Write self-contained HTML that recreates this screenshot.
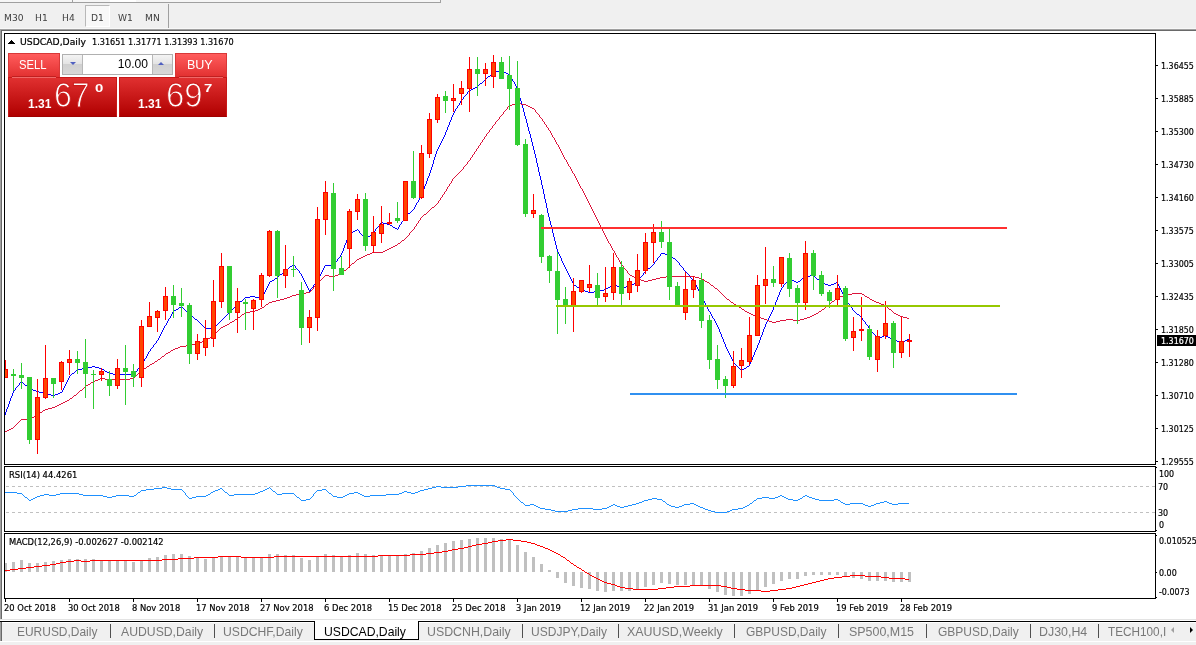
<!DOCTYPE html>
<html><head><meta charset="utf-8"><title>USDCAD,Daily</title>
<style>
html,body{margin:0;padding:0;background:#f0f0f0;}
body{width:1196px;height:645px;overflow:hidden;position:relative;font-family:"Liberation Sans",sans-serif;}
#root{position:absolute;left:0;top:0;width:1196px;height:645px;overflow:hidden;background:#f0f0f0;}
#root div{position:absolute;}
.tf{top:12px;transform:scaleX(1.07);font-family:"DejaVu Sans Condensed","Liberation Sans",sans-serif;font-size:9.5px;color:#404040;line-height:12px;transform-origin:0 0;}
.tk{left:1156px;width:2px;height:1px;background:#000;}
.dt{top:599px;width:1px;height:3px;background:#000;}
.tab{top:624px;font-size:13px;line-height:15px;color:#787878;white-space:nowrap;transform-origin:0 0;transform:scaleX(0.92);}
.tab.act{color:#000;}
.tsep{top:624px;width:1px;height:14px;background:#505050;}
.acttab{left:314px;top:621px;width:103px;height:18px;background:#fff;border:1px solid #000;border-top:none;}
.lbl{font-family:"DejaVu Sans Condensed","DejaVu Sans","Liberation Sans",sans-serif;font-size:9.5px;line-height:12px;color:#000;white-space:nowrap;transform-origin:0 0;-webkit-text-stroke:0.2px #000;}
.sm{top:97px;font-size:12px;line-height:14px;color:#fff;font-weight:bold;}
.big{top:76px;font-size:35.5px;line-height:38px;color:#fff;-webkit-text-stroke:1.1px #cb1c1c;transform-origin:0 0;transform:scaleX(0.85);}
.sup{top:81px;font-size:11.5px;line-height:14px;color:#fff;font-weight:bold;transform-origin:0 0;transform:scaleX(1.3);}
</style></head><body><div id="root">
<!-- top strip -->
<div style="left:0;top:0;width:440px;height:2px;background:#f6f6f6;border-bottom:1px solid #a0a0a0;border-right:1px solid #a0a0a0"></div>
<div style="left:72px;top:0;width:1px;height:2px;background:#a0a0a0"></div>
<div style="left:110px;top:0;width:26px;height:2px;background:#fff"></div>
<div style="left:85px;top:5px;width:23px;height:20px;background:#f8f8f8;border:1px solid #b8b8b8;border-right-color:#fff;border-bottom-color:#fff;"></div>
<div style="left:168px;top:4px;width:1px;height:24px;background:#a0a0a0"></div>
<div class="tf" style="left:4px">M30</div><div class="tf" style="left:35px">H1</div><div class="tf" style="left:62px">H4</div><div class="tf" style="left:91px">D1</div><div class="tf" style="left:118px">W1</div><div class="tf" style="left:145px">MN</div>
<!-- window frame -->
<div style="left:0;top:28px;width:1196px;height:1px;background:#f8f8f8"></div>
<div style="left:0;top:29px;width:1196px;height:1px;background:#a0a0a0"></div>
<div style="left:0;top:30px;width:1196px;height:1px;background:#696969"></div>
<div style="left:0;top:31px;width:1196px;height:590px;background:#fff"></div>
<div style="left:0;top:30px;width:1px;height:589px;background:#a0a0a0"></div>
<div style="left:1px;top:30px;width:1px;height:589px;background:#696969"></div>
<!-- main chart -->
<div style="left:4px;top:33px;width:1152px;height:432px;border:1px solid #000;box-sizing:border-box;background:#fff"></div>
<div style="left:4px;top:466px;width:1152px;height:66px;border:1px solid #000;box-sizing:border-box;background:#fff"></div>
<div style="left:4px;top:533px;width:1152px;height:66px;border:1px solid #000;box-sizing:border-box;background:#fff"></div>
<svg width="1196" height="645" viewBox="0 0 1196 645" style="position:absolute;left:0;top:0" shape-rendering="crispEdges">
<clipPath id="cp"><rect x="5" y="34" width="1150" height="430"/></clipPath>
<g clip-path="url(#cp)">



<path fill="#0000ff" d="M-3 435h1v2h-1zM-2 432h1v3h-1zM-1 429h1v3h-1zM0 426h1v3h-1zM1 424h1v2h-1zM2 421h1v3h-1zM3 418h1v3h-1zM4 415h1v3h-1zM5 412h1v3h-1zM6 409h1v3h-1zM7 407h1v2h-1zM8 404h1v3h-1zM9 401h1v3h-1zM10 398h1v3h-1zM11 396h1v2h-1zM12 393h1v3h-1zM13 391h1v2h-1zM14 390h1v1h-1zM15 388h1v2h-1zM16 387h1v1h-1zM17 386h1v1h-1zM18 385h1v1h-1zM19 383h1v2h-1zM20 382h1v1h-1zM21 381h1v1h-1zM22 382h1v1h-1zM23 383h1v1h-1zM24 384h1v1h-1zM25 385h2v1h-2zM27 386h1v1h-1zM28 387h1v1h-1zM29 388h2v1h-2zM31 389h2v1h-2zM33 390h3v1h-3zM36 391h3v1h-3zM39 392h4v1h-4zM43 393h4v1h-4zM47 394h4v1h-4zM51 395h4v1h-4zM55 394h3v1h-3zM58 393h2v1h-2zM60 392h2v1h-2zM62 390h1v2h-1zM63 388h1v2h-1zM64 386h1v2h-1zM65 384h1v2h-1zM66 382h1v2h-1zM67 380h1v2h-1zM68 378h1v2h-1zM69 376h1v2h-1zM70 375h1v1h-1zM71 374h1v1h-1zM72 373h2v1h-2zM74 372h1v1h-1zM75 371h1v1h-1zM76 370h1v1h-1zM77 369h5v1h-5zM82 368h6v1h-6zM88 367h4v1h-4zM92 366h3v1h-3zM95 367h4v1h-4zM99 368h3v1h-3zM102 369h2v1h-2zM104 370h1v1h-1zM105 371h2v1h-2zM107 372h2v1h-2zM109 373h4v1h-4zM113 374h21v1h-21zM134 373h1v1h-1zM135 372h1v1h-1zM136 371h1v1h-1zM137 369h1v2h-1zM138 368h1v1h-1zM139 367h1v1h-1zM140 366h1v1h-1zM141 365h1v1h-1zM142 363h1v2h-1zM143 361h1v2h-1zM144 359h1v2h-1zM145 358h1v1h-1zM146 356h1v2h-1zM147 354h1v2h-1zM148 352h1v2h-1zM149 351h1v1h-1zM150 349h1v2h-1zM151 348h1v1h-1zM152 347h1v1h-1zM153 345h1v2h-1zM154 344h1v1h-1zM155 343h1v1h-1zM156 341h1v2h-1zM157 340h1v1h-1zM158 338h1v2h-1zM159 336h1v2h-1zM160 334h1v2h-1zM161 332h1v2h-1zM162 330h1v2h-1zM163 328h1v2h-1zM164 326h1v2h-1zM165 325h1v1h-1zM166 323h1v2h-1zM167 321h1v2h-1zM168 319h1v2h-1zM169 318h1v1h-1zM170 316h1v2h-1zM171 314h1v2h-1zM172 312h1v2h-1zM173 311h1v1h-1zM174 310h2v1h-2zM176 309h2v1h-2zM178 308h1v1h-1zM179 307h2v1h-2zM181 306h1v1h-1zM182 307h1v1h-1zM183 308h1v1h-1zM184 309h1v1h-1zM185 310h1v1h-1zM186 311h1v1h-1zM187 312h1v1h-1zM188 313h1v1h-1zM189 314h1v1h-1zM190 315h1v1h-1zM191 316h2v1h-2zM193 317h1v1h-1zM194 318h1v1h-1zM195 319h2v1h-2zM197 320h1v1h-1zM198 321h1v1h-1zM199 322h1v1h-1zM200 323h1v1h-1zM201 324h1v1h-1zM202 325h1v1h-1zM203 326h1v1h-1zM204 327h1v1h-1zM205 328h9v1h-9zM214 327h1v1h-1zM215 326h1v1h-1zM216 325h1v1h-1zM217 324h1v1h-1zM218 323h1v1h-1zM219 322h1v1h-1zM220 321h1v1h-1zM221 320h1v1h-1zM222 319h1v1h-1zM223 318h1v1h-1zM224 317h1v1h-1zM225 316h1v1h-1zM226 315h1v1h-1zM227 314h1v1h-1zM228 313h1v1h-1zM229 312h1v1h-1zM230 311h1v1h-1zM231 310h1v1h-1zM232 309h1v1h-1zM233 308h1v1h-1zM234 307h1v1h-1zM235 306h1v1h-1zM236 305h1v1h-1zM237 304h1v1h-1zM238 303h1v1h-1zM239 302h1v1h-1zM240 301h2v1h-2zM242 300h1v1h-1zM243 299h1v1h-1zM244 298h1v1h-1zM245 297h5v1h-5zM250 296h5v1h-5zM255 297h4v1h-4zM259 298h3v1h-3zM262 296h1v2h-1zM263 294h1v2h-1zM264 292h1v2h-1zM265 290h1v2h-1zM266 288h1v2h-1zM267 286h1v2h-1zM268 284h1v2h-1zM269 282h1v2h-1zM270 281h2v1h-2zM272 280h2v1h-2zM274 279h1v1h-1zM275 278h2v1h-2zM277 277h1v1h-1zM278 276h1v1h-1zM279 275h1v1h-1zM280 274h2v1h-2zM282 273h1v1h-1zM283 272h1v1h-1zM284 271h1v1h-1zM285 270h1v1h-1zM286 269h2v1h-2zM288 268h1v1h-1zM289 267h1v1h-1zM290 266h2v1h-2zM292 265h1v1h-1zM293 264h1v1h-1zM294 265h1v1h-1zM295 266h1v2h-1zM296 268h1v1h-1zM297 269h1v1h-1zM298 270h1v1h-1zM299 271h1v2h-1zM300 273h1v1h-1zM301 274h1v2h-1zM302 276h1v2h-1zM303 278h1v2h-1zM304 280h1v2h-1zM305 282h1v2h-1zM306 284h1v2h-1zM307 286h1v2h-1zM308 288h1v2h-1zM309 291h1v1h-1zM309 290h2v1h-2zM310 289h1v1h-1zM311 288h1v1h-1zM312 287h1v1h-1zM313 285h1v2h-1zM314 284h1v1h-1zM315 283h1v1h-1zM316 281h1v2h-1zM317 280h1v1h-1zM318 278h1v2h-1zM319 276h1v2h-1zM320 274h1v2h-1zM321 272h1v2h-1zM322 270h1v2h-1zM323 268h1v2h-1zM324 266h1v2h-1zM325 265h9v1h-9zM334 263h1v2h-1zM335 262h1v1h-1zM336 261h1v1h-1zM337 259h1v2h-1zM338 258h1v1h-1zM339 257h1v1h-1zM340 255h1v2h-1zM341 253h1v2h-1zM342 251h1v2h-1zM343 248h1v3h-1zM344 245h1v3h-1zM345 243h1v2h-1zM346 240h1v3h-1zM347 237h1v3h-1zM348 235h1v2h-1zM349 234h1v1h-1zM349 233h2v1h-2zM351 232h2v1h-2zM353 231h2v1h-2zM355 230h2v1h-2zM357 229h1v1h-1zM358 230h1v1h-1zM359 231h1v2h-1zM360 233h1v1h-1zM361 234h1v1h-1zM362 235h1v1h-1zM363 236h1v2h-1zM364 238h1v1h-1zM365 239h1v1h-1zM366 238h1v1h-1zM367 237h1v1h-1zM368 236h2v1h-2zM370 235h1v1h-1zM371 234h1v1h-1zM372 233h1v1h-1zM373 232h1v1h-1zM374 231h1v1h-1zM375 229h1v2h-1zM376 228h1v1h-1zM377 227h1v1h-1zM378 226h1v1h-1zM379 224h1v2h-1zM380 223h1v1h-1zM381 222h2v1h-2zM383 223h4v1h-4zM387 224h3v1h-3zM390 225h2v1h-2zM392 226h1v1h-1zM393 227h2v1h-2zM395 228h2v1h-2zM397 229h1v1h-1zM398 227h1v2h-1zM399 225h1v2h-1zM400 224h1v1h-1zM401 222h1v2h-1zM402 221h1v1h-1zM403 219h1v2h-1zM404 217h1v2h-1zM405 216h1v1h-1zM406 215h1v1h-1zM407 214h1v1h-1zM408 213h2v1h-2zM410 212h1v1h-1zM411 211h1v1h-1zM412 210h1v1h-1zM413 209h1v1h-1zM414 207h1v2h-1zM415 205h1v2h-1zM416 203h1v2h-1zM417 202h1v1h-1zM418 200h1v2h-1zM419 198h1v2h-1zM420 196h1v2h-1zM421 194h1v2h-1zM422 192h1v2h-1zM423 189h1v3h-1zM424 186h1v3h-1zM425 184h1v2h-1zM426 181h1v3h-1zM427 178h1v3h-1zM428 176h1v2h-1zM429 173h1v3h-1zM430 170h1v3h-1zM431 167h1v3h-1zM432 164h1v3h-1zM433 160h1v4h-1zM434 157h1v3h-1zM435 154h1v3h-1zM436 151h1v3h-1zM437 149h1v2h-1zM438 147h1v2h-1zM439 145h1v2h-1zM440 143h1v2h-1zM441 141h1v2h-1zM442 139h1v2h-1zM443 137h1v2h-1zM444 135h1v2h-1zM445 132h1v3h-1zM446 130h1v2h-1zM447 127h1v3h-1zM448 125h1v2h-1zM449 122h1v3h-1zM450 120h1v2h-1zM451 117h1v3h-1zM452 115h1v2h-1zM453 113h1v2h-1zM454 111h1v2h-1zM455 109h1v2h-1zM456 108h1v1h-1zM457 106h1v2h-1zM458 105h1v1h-1zM459 103h1v2h-1zM460 101h1v2h-1zM461 100h1v1h-1zM462 99h1v1h-1zM463 97h1v2h-1zM464 96h1v1h-1zM465 95h1v1h-1zM466 94h1v1h-1zM467 92h1v2h-1zM468 91h1v1h-1zM469 90h2v1h-2zM471 89h2v1h-2zM473 88h2v1h-2zM475 87h2v1h-2zM477 86h1v1h-1zM478 85h1v1h-1zM479 84h1v1h-1zM480 83h2v1h-2zM482 82h1v1h-1zM483 81h1v1h-1zM484 80h1v1h-1zM485 79h1v1h-1zM486 78h1v1h-1zM487 77h1v1h-1zM488 76h2v1h-2zM490 75h1v1h-1zM491 74h1v1h-1zM492 73h1v1h-1zM493 72h3v1h-3zM496 71h4v1h-4zM500 70h2v1h-2zM502 71h2v1h-2zM504 72h2v1h-2zM506 73h2v1h-2zM508 74h2v1h-2zM510 75h1v2h-1zM511 77h1v2h-1zM512 79h1v2h-1zM513 81h1v1h-1zM514 82h1v2h-1zM515 84h1v2h-1zM516 86h1v2h-1zM517 88h1v2h-1zM518 90h1v4h-1zM519 94h1v4h-1zM520 98h1v3h-1zM521 101h1v4h-1zM522 105h1v3h-1zM523 108h1v4h-1zM524 112h1v4h-1zM525 116h1v3h-1zM526 119h1v4h-1zM527 123h1v4h-1zM528 127h1v4h-1zM529 131h1v3h-1zM530 134h1v4h-1zM531 138h1v4h-1zM532 142h1v4h-1zM533 146h1v4h-1zM534 150h1v4h-1zM535 154h1v4h-1zM536 158h1v5h-1zM537 163h1v4h-1zM538 167h1v5h-1zM539 172h1v4h-1zM540 176h1v4h-1zM541 180h1v5h-1zM542 185h1v4h-1zM543 189h1v5h-1zM544 194h1v5h-1zM545 199h1v4h-1zM546 203h1v5h-1zM547 208h1v5h-1zM548 213h1v4h-1zM549 217h1v4h-1zM550 221h1v4h-1zM551 225h1v4h-1zM552 229h1v4h-1zM553 233h1v4h-1zM554 237h1v4h-1zM555 241h1v4h-1zM556 245h1v4h-1zM557 249h1v3h-1zM558 252h1v2h-1zM559 254h1v2h-1zM560 256h1v2h-1zM561 258h1v3h-1zM562 261h1v2h-1zM563 263h1v2h-1zM564 265h1v2h-1zM565 267h1v2h-1zM566 269h1v2h-1zM567 271h1v2h-1zM568 273h1v2h-1zM569 275h1v2h-1zM570 277h1v2h-1zM571 279h1v2h-1zM572 281h1v2h-1zM573 283h1v2h-1zM574 285h2v1h-2zM576 286h1v1h-1zM577 287h2v1h-2zM579 288h2v1h-2zM581 289h2v1h-2zM583 290h2v1h-2zM585 291h3v1h-3zM588 292h6v1h-6zM594 291h6v1h-6zM600 290h4v1h-4zM604 289h2v1h-2zM606 288h2v1h-2zM608 287h2v1h-2zM610 286h1v1h-1zM611 285h2v1h-2zM613 284h2v1h-2zM615 285h2v1h-2zM617 286h3v1h-3zM620 287h6v1h-6zM626 286h4v1h-4zM630 285h2v1h-2zM632 284h2v1h-2zM634 283h1v1h-1zM635 282h2v1h-2zM637 281h1v1h-1zM638 280h1v1h-1zM639 278h1v2h-1zM640 277h1v1h-1zM641 276h1v1h-1zM642 275h1v1h-1zM643 273h1v2h-1zM644 272h1v1h-1zM645 271h1v1h-1zM646 270h1v1h-1zM647 269h1v1h-1zM648 268h2v1h-2zM650 267h1v1h-1zM651 266h1v1h-1zM652 265h1v1h-1zM653 264h1v1h-1zM654 262h1v2h-1zM655 261h1v1h-1zM656 260h1v1h-1zM657 258h1v2h-1zM658 257h1v1h-1zM659 256h1v1h-1zM660 254h1v2h-1zM661 253h4v1h-4zM665 254h5v1h-5zM670 255h1v1h-1zM671 256h1v1h-1zM672 257h1v1h-1zM673 258h2v1h-2zM675 259h1v1h-1zM676 260h1v1h-1zM677 261h1v1h-1zM678 262h1v1h-1zM679 263h1v2h-1zM680 265h1v1h-1zM681 266h1v1h-1zM682 267h1v1h-1zM683 268h1v2h-1zM684 270h1v1h-1zM685 271h1v1h-1zM686 272h1v1h-1zM687 273h1v1h-1zM688 274h1v1h-1zM689 275h1v2h-1zM690 277h1v1h-1zM691 278h1v1h-1zM692 279h1v1h-1zM693 280h1v1h-1zM694 281h1v2h-1zM695 283h1v2h-1zM696 285h1v2h-1zM697 287h1v2h-1zM698 289h1v2h-1zM699 291h1v2h-1zM700 293h1v2h-1zM701 295h1v2h-1zM702 297h1v2h-1zM703 299h1v2h-1zM704 301h1v2h-1zM705 303h1v2h-1zM706 305h1v2h-1zM707 307h1v2h-1zM708 309h1v2h-1zM709 311h1v1h-1zM710 312h1v2h-1zM711 314h1v2h-1zM712 316h1v2h-1zM713 318h1v1h-1zM714 319h1v2h-1zM715 321h1v2h-1zM716 323h1v2h-1zM717 325h1v2h-1zM718 327h1v2h-1zM719 329h1v3h-1zM720 332h1v2h-1zM721 334h1v3h-1zM722 337h1v2h-1zM723 339h1v3h-1zM724 342h1v2h-1zM725 344h1v3h-1zM726 347h1v2h-1zM727 349h1v2h-1zM728 351h1v2h-1zM729 353h1v2h-1zM730 355h1v2h-1zM731 357h1v2h-1zM732 359h1v2h-1zM733 361h1v2h-1zM734 363h1v1h-1zM735 364h1v1h-1zM736 365h1v1h-1zM737 366h1v1h-1zM738 367h1v1h-1zM739 368h1v1h-1zM740 369h1v1h-1zM741 370h1v1h-1zM742 369h2v1h-2zM744 368h2v1h-2zM746 367h1v1h-1zM747 366h2v1h-2zM749 364h1v2h-1zM750 362h1v2h-1zM751 360h1v2h-1zM752 357h1v3h-1zM753 355h1v2h-1zM754 352h1v3h-1zM755 350h1v2h-1zM756 348h1v2h-1zM757 345h1v3h-1zM758 343h1v2h-1zM759 340h1v3h-1zM760 337h1v3h-1zM761 335h1v2h-1zM762 332h1v3h-1zM763 329h1v3h-1zM764 327h1v2h-1zM765 324h1v3h-1zM766 322h1v2h-1zM767 320h1v2h-1zM768 318h1v2h-1zM769 316h1v2h-1zM770 314h1v2h-1zM771 312h1v2h-1zM772 310h1v2h-1zM773 307h1v3h-1zM774 305h1v2h-1zM775 302h1v3h-1zM776 300h1v2h-1zM777 297h1v3h-1zM778 295h1v2h-1zM779 292h1v3h-1zM780 290h1v2h-1zM781 288h1v2h-1zM782 287h1v1h-1zM783 285h1v2h-1zM784 284h1v1h-1zM785 283h1v1h-1zM786 282h1v1h-1zM787 280h1v2h-1zM788 279h1v1h-1zM789 278h1v1h-1zM790 279h2v1h-2zM792 280h2v1h-2zM794 281h2v1h-2zM796 282h2v1h-2zM798 281h2v1h-2zM800 280h1v1h-1zM801 279h1v1h-1zM802 278h2v1h-2zM804 277h1v1h-1zM805 276h5v1h-5zM810 275h4v1h-4zM814 276h1v1h-1zM815 277h1v1h-1zM816 278h1v1h-1zM817 279h2v1h-2zM819 280h1v1h-1zM820 281h1v1h-1zM821 282h2v1h-2zM823 283h2v1h-2zM825 284h3v1h-3zM828 285h3v1h-3zM831 284h3v1h-3zM834 283h2v1h-2zM836 282h2v1h-2zM837 283h1v1h-1zM838 284h1v2h-1zM839 286h1v2h-1zM840 288h1v2h-1zM841 290h1v2h-1zM842 292h1v2h-1zM843 294h1v2h-1zM844 296h1v2h-1zM845 298h1v2h-1zM846 300h1v2h-1zM847 302h1v1h-1zM848 303h1v1h-1zM849 304h1v2h-1zM850 306h1v1h-1zM851 307h1v1h-1zM852 308h1v2h-1zM853 310h1v1h-1zM854 311h1v1h-1zM855 312h1v1h-1zM856 313h1v1h-1zM857 314h2v1h-2zM859 315h1v1h-1zM860 316h1v1h-1zM861 317h1v1h-1zM862 318h1v2h-1zM863 320h1v1h-1zM864 321h1v1h-1zM865 322h1v2h-1zM866 324h1v1h-1zM867 325h1v1h-1zM868 326h1v2h-1zM869 328h1v1h-1zM870 329h1v1h-1zM871 330h1v2h-1zM872 332h1v1h-1zM873 333h1v1h-1zM874 334h1v1h-1zM875 335h1v2h-1zM876 337h1v1h-1zM877 338h2v1h-2zM879 337h3v1h-3zM882 336h2v1h-2zM884 335h2v1h-2zM886 336h2v1h-2zM888 337h2v1h-2zM890 338h2v1h-2zM892 339h3v1h-3zM895 340h2v1h-2zM897 341h3v1h-3zM900 342h3v1h-3zM903 341h2v1h-2zM905 340h2v1h-2zM907 339h2v1h-2z"/>
<path fill="#dc143c" d="M-3 436h1v1h-1zM-2 435h2v1h-2zM0 434h2v1h-2zM2 433h1v1h-1zM3 432h2v1h-2zM5 431h2v1h-2zM7 430h2v1h-2zM9 429h2v1h-2zM11 428h2v1h-2zM13 427h1v1h-1zM14 426h1v1h-1zM15 425h1v1h-1zM16 424h1v1h-1zM17 423h1v1h-1zM18 422h1v1h-1zM19 421h1v1h-1zM20 420h1v1h-1zM21 419h9v1h-9zM30 418h2v1h-2zM32 417h2v1h-2zM34 416h1v1h-1zM35 415h2v1h-2zM37 414h1v1h-1zM38 413h2v1h-2zM40 412h2v1h-2zM42 411h1v1h-1zM43 410h2v1h-2zM45 409h3v1h-3zM48 408h4v1h-4zM52 407h3v1h-3zM55 406h2v1h-2zM57 405h2v1h-2zM59 404h2v1h-2zM61 403h2v1h-2zM63 402h2v1h-2zM65 401h2v1h-2zM67 400h2v1h-2zM69 399h1v1h-1zM70 398h2v1h-2zM72 397h1v1h-1zM73 396h1v1h-1zM74 395h2v1h-2zM76 394h1v1h-1zM77 393h1v1h-1zM78 392h1v1h-1zM79 391h1v1h-1zM80 390h2v1h-2zM82 389h1v1h-1zM83 388h1v1h-1zM84 387h1v1h-1zM85 386h1v1h-1zM86 385h2v1h-2zM88 384h2v1h-2zM90 383h1v1h-1zM91 382h2v1h-2zM93 381h2v1h-2zM95 380h3v1h-3zM98 379h2v1h-2zM100 378h5v1h-5zM105 379h25v1h-25zM130 378h4v1h-4zM134 377h1v1h-1zM135 376h1v1h-1zM136 375h1v1h-1zM137 374h1v1h-1zM138 373h1v1h-1zM139 372h1v1h-1zM140 371h1v1h-1zM141 370h1v1h-1zM142 369h2v1h-2zM144 368h2v1h-2zM146 367h1v1h-1zM147 366h2v1h-2zM149 365h1v1h-1zM150 364h2v1h-2zM152 363h2v1h-2zM154 362h1v1h-1zM155 361h2v1h-2zM157 360h1v1h-1zM158 359h2v1h-2zM160 358h1v1h-1zM161 357h1v1h-1zM162 356h2v1h-2zM164 355h1v1h-1zM165 354h1v1h-1zM166 353h2v1h-2zM168 352h2v1h-2zM170 351h1v1h-1zM171 350h2v1h-2zM173 349h2v1h-2zM175 348h3v1h-3zM178 347h2v1h-2zM180 346h6v1h-6zM186 345h6v1h-6zM192 344h4v1h-4zM196 343h3v1h-3zM199 342h3v1h-3zM202 341h2v1h-2zM204 340h2v1h-2zM206 339h2v1h-2zM208 338h2v1h-2zM210 337h1v1h-1zM211 336h2v1h-2zM213 335h1v1h-1zM214 334h1v1h-1zM215 333h1v1h-1zM216 332h1v1h-1zM217 331h1v1h-1zM218 330h1v1h-1zM219 329h1v1h-1zM220 328h1v1h-1zM221 327h2v1h-2zM223 326h2v1h-2zM225 325h2v1h-2zM227 324h2v1h-2zM229 323h1v1h-1zM230 322h2v1h-2zM232 321h2v1h-2zM234 320h1v1h-1zM235 319h2v1h-2zM237 318h1v1h-1zM238 317h2v1h-2zM240 316h1v1h-1zM241 315h1v1h-1zM242 314h2v1h-2zM244 313h1v1h-1zM245 312h5v1h-5zM250 311h5v1h-5zM255 310h3v1h-3zM258 309h2v1h-2zM260 308h2v1h-2zM262 307h2v1h-2zM264 306h1v1h-1zM265 305h1v1h-1zM266 304h2v1h-2zM268 303h1v1h-1zM269 302h3v1h-3zM272 301h4v1h-4zM276 300h4v1h-4zM280 299h4v1h-4zM284 298h3v1h-3zM287 297h3v1h-3zM290 296h2v1h-2zM292 295h4v1h-4zM296 294h4v1h-4zM300 293h6v1h-6zM306 292h4v1h-4zM310 291h1v1h-1zM311 290h1v1h-1zM312 289h1v1h-1zM313 287h1v2h-1zM314 286h1v1h-1zM315 285h1v1h-1zM316 284h1v1h-1zM317 283h1v1h-1zM318 282h1v1h-1zM319 281h1v1h-1zM320 280h1v1h-1zM321 279h1v1h-1zM322 278h1v1h-1zM323 277h1v1h-1zM324 276h1v1h-1zM325 275h4v1h-4zM329 276h6v1h-6zM335 275h3v1h-3zM338 274h2v1h-2zM340 273h2v1h-2zM342 272h1v1h-1zM343 271h1v1h-1zM344 270h2v1h-2zM346 269h1v1h-1zM347 268h1v1h-1zM348 267h1v1h-1zM349 266h1v1h-1zM350 265h1v1h-1zM351 264h1v1h-1zM352 263h2v1h-2zM354 262h1v1h-1zM355 261h1v1h-1zM356 260h1v1h-1zM357 259h2v1h-2zM359 258h2v1h-2zM361 257h2v1h-2zM363 256h2v1h-2zM365 255h2v1h-2zM367 254h3v1h-3zM370 253h2v1h-2zM372 252h11v1h-11zM383 251h2v1h-2zM385 250h2v1h-2zM387 249h2v1h-2zM389 248h2v1h-2zM391 247h2v1h-2zM393 246h2v1h-2zM395 245h2v1h-2zM397 244h1v1h-1zM398 243h2v1h-2zM400 242h1v1h-1zM401 241h1v1h-1zM402 240h2v1h-2zM404 239h1v1h-1zM405 238h1v1h-1zM406 237h1v1h-1zM407 236h1v1h-1zM408 235h1v1h-1zM409 233h1v2h-1zM410 232h1v1h-1zM411 231h1v1h-1zM412 230h1v1h-1zM413 229h1v1h-1zM414 227h1v2h-1zM415 226h1v1h-1zM416 224h1v2h-1zM417 223h1v1h-1zM418 221h1v2h-1zM419 220h1v1h-1zM420 218h1v2h-1zM421 217h1v1h-1zM422 216h1v1h-1zM423 215h1v1h-1zM424 214h2v1h-2zM426 213h1v1h-1zM427 212h1v1h-1zM428 211h1v1h-1zM429 210h1v1h-1zM430 209h1v1h-1zM431 208h1v1h-1zM432 207h2v1h-2zM434 206h1v1h-1zM435 205h1v1h-1zM436 204h1v1h-1zM437 203h1v1h-1zM438 201h1v2h-1zM439 200h1v1h-1zM440 198h1v2h-1zM441 197h1v1h-1zM442 195h1v2h-1zM443 194h1v1h-1zM444 192h1v2h-1zM445 191h1v1h-1zM446 189h1v2h-1zM447 187h1v2h-1zM448 186h1v1h-1zM449 184h1v2h-1zM450 183h1v1h-1zM451 181h1v2h-1zM452 179h1v2h-1zM453 178h1v1h-1zM454 177h1v1h-1zM455 176h1v1h-1zM456 175h1v1h-1zM457 174h1v1h-1zM458 173h1v1h-1zM459 172h1v1h-1zM460 171h1v1h-1zM461 170h1v1h-1zM462 169h1v1h-1zM463 167h1v2h-1zM464 166h1v1h-1zM465 165h1v1h-1zM466 164h1v1h-1zM467 162h1v2h-1zM468 161h1v1h-1zM469 160h1v1h-1zM470 158h1v2h-1zM471 157h1v1h-1zM472 155h1v2h-1zM473 154h1v1h-1zM474 152h1v2h-1zM475 151h1v1h-1zM476 149h1v2h-1zM477 148h1v1h-1zM478 146h1v2h-1zM479 145h1v1h-1zM480 143h1v2h-1zM481 142h1v1h-1zM482 140h1v2h-1zM483 139h1v1h-1zM484 137h1v2h-1zM485 136h1v1h-1zM486 134h1v2h-1zM487 133h1v1h-1zM488 132h1v1h-1zM489 130h1v2h-1zM490 129h1v1h-1zM491 128h1v1h-1zM492 126h1v2h-1zM493 125h1v1h-1zM494 124h1v1h-1zM495 122h1v2h-1zM496 121h1v1h-1zM497 120h1v1h-1zM498 119h1v1h-1zM499 117h1v2h-1zM500 116h1v1h-1zM501 115h1v1h-1zM502 114h1v1h-1zM503 112h1v2h-1zM504 111h1v1h-1zM505 110h1v1h-1zM506 109h1v1h-1zM507 107h1v2h-1zM508 106h1v1h-1zM509 105h3v1h-3zM512 104h4v1h-4zM516 103h5v1h-5zM521 104h5v1h-5zM526 105h2v1h-2zM528 106h2v1h-2zM530 107h2v1h-2zM532 108h2v1h-2zM534 109h1v1h-1zM535 110h1v2h-1zM536 112h1v1h-1zM537 113h1v1h-1zM538 114h1v1h-1zM539 115h1v2h-1zM540 117h1v1h-1zM541 118h1v1h-1zM542 119h1v2h-1zM543 121h1v1h-1zM544 122h1v2h-1zM545 124h1v1h-1zM546 125h1v2h-1zM547 127h1v1h-1zM548 128h1v2h-1zM549 130h1v1h-1zM550 131h1v2h-1zM551 133h1v2h-1zM552 135h1v2h-1zM553 137h1v1h-1zM554 138h1v2h-1zM555 140h1v2h-1zM556 142h1v2h-1zM557 144h1v1h-1zM558 145h1v2h-1zM559 147h1v2h-1zM560 149h1v2h-1zM561 151h1v2h-1zM562 153h1v2h-1zM563 155h1v2h-1zM564 157h1v2h-1zM565 159h1v1h-1zM566 160h1v2h-1zM567 162h1v2h-1zM568 164h1v2h-1zM569 166h1v1h-1zM570 167h1v2h-1zM571 169h1v2h-1zM572 171h1v2h-1zM573 173h1v1h-1zM574 174h1v2h-1zM575 176h1v2h-1zM576 178h1v2h-1zM577 180h1v2h-1zM578 182h1v2h-1zM579 184h1v2h-1zM580 186h1v2h-1zM581 188h1v1h-1zM582 189h1v2h-1zM583 191h1v2h-1zM584 193h1v2h-1zM585 195h1v2h-1zM586 197h1v2h-1zM587 199h1v2h-1zM588 201h1v2h-1zM589 203h1v2h-1zM590 205h1v2h-1zM591 207h1v2h-1zM592 209h1v2h-1zM593 211h1v2h-1zM594 213h1v2h-1zM595 215h1v2h-1zM596 217h1v2h-1zM597 219h1v2h-1zM598 221h1v2h-1zM599 223h1v2h-1zM600 225h1v2h-1zM601 227h1v2h-1zM602 229h1v2h-1zM603 231h1v2h-1zM604 233h1v2h-1zM605 235h1v2h-1zM606 237h1v2h-1zM607 239h1v2h-1zM608 241h1v2h-1zM609 243h1v1h-1zM610 244h1v2h-1zM611 246h1v2h-1zM612 248h1v2h-1zM613 250h1v1h-1zM614 251h1v2h-1zM615 253h1v2h-1zM616 255h1v2h-1zM617 257h1v1h-1zM618 258h1v2h-1zM619 260h1v2h-1zM620 262h1v2h-1zM621 264h1v1h-1zM622 265h1v1h-1zM623 266h1v2h-1zM624 268h1v1h-1zM625 269h1v1h-1zM626 270h1v1h-1zM627 271h1v2h-1zM628 273h1v1h-1zM629 274h1v1h-1zM630 275h2v1h-2zM632 276h2v1h-2zM634 277h2v1h-2zM636 278h3v1h-3zM639 279h2v1h-2zM641 280h3v1h-3zM644 281h4v1h-4zM648 280h4v1h-4zM652 279h4v1h-4zM656 278h4v1h-4zM660 277h6v1h-6zM666 276h29v1h-29zM695 277h4v1h-4zM699 278h3v1h-3zM702 279h2v1h-2zM704 280h1v1h-1zM705 281h2v1h-2zM707 282h2v1h-2zM709 283h1v1h-1zM710 284h1v1h-1zM711 285h2v1h-2zM713 286h1v1h-1zM714 287h1v1h-1zM715 288h2v1h-2zM717 289h1v1h-1zM718 290h1v1h-1zM719 291h1v1h-1zM720 292h1v1h-1zM721 293h1v1h-1zM722 294h1v1h-1zM723 295h1v1h-1zM724 296h1v1h-1zM725 297h1v1h-1zM726 298h1v1h-1zM727 299h2v1h-2zM729 300h1v1h-1zM730 301h1v1h-1zM731 302h2v1h-2zM733 303h1v1h-1zM734 304h2v1h-2zM736 305h1v1h-1zM737 306h2v1h-2zM739 307h2v1h-2zM741 308h1v1h-1zM742 309h2v1h-2zM744 310h1v1h-1zM745 311h2v1h-2zM747 312h2v1h-2zM749 313h2v1h-2zM751 314h2v1h-2zM753 315h3v1h-3zM756 316h3v1h-3zM759 317h2v1h-2zM761 318h3v1h-3zM764 319h3v1h-3zM767 320h2v1h-2zM769 321h3v1h-3zM772 322h4v1h-4zM776 321h4v1h-4zM780 320h6v1h-6zM786 319h7v1h-7zM793 320h7v1h-7zM800 319h4v1h-4zM804 318h3v1h-3zM807 317h3v1h-3zM810 316h2v1h-2zM812 315h2v1h-2zM814 314h2v1h-2zM816 313h2v1h-2zM818 312h1v1h-1zM819 311h2v1h-2zM821 310h1v1h-1zM822 309h2v1h-2zM824 308h1v1h-1zM825 307h1v1h-1zM826 306h2v1h-2zM828 305h1v1h-1zM829 304h1v1h-1zM830 303h1v1h-1zM831 302h1v1h-1zM832 301h2v1h-2zM834 300h1v1h-1zM835 299h1v1h-1zM836 298h1v1h-1zM837 297h3v1h-3zM840 296h4v1h-4zM844 295h4v1h-4zM848 294h4v1h-4zM852 293h10v1h-10zM862 294h2v1h-2zM864 295h1v1h-1zM865 296h2v1h-2zM867 297h2v1h-2zM869 298h1v1h-1zM870 299h2v1h-2zM872 300h2v1h-2zM874 301h2v1h-2zM876 302h3v1h-3zM879 303h2v1h-2zM881 304h3v1h-3zM884 305h2v1h-2zM886 306h1v1h-1zM887 307h1v1h-1zM888 308h1v1h-1zM889 309h2v1h-2zM891 310h1v1h-1zM892 311h1v1h-1zM893 312h1v1h-1zM894 313h2v1h-2zM896 314h2v1h-2zM898 315h2v1h-2zM900 316h3v1h-3zM903 317h4v1h-4zM907 318h2v1h-2z"/>

<path fill="#32cd32" d="M13 369h1v22h-1zM11 374h5v2h-5zM21 363h1v26h-1zM19 375h5v3h-5zM29 377h1v67h-1zM27 377h5v63h-5zM53 378h1v20h-1zM51 378h5v6h-5zM77 351h1v23h-1zM75 359h5v4h-5zM85 339h1v59h-1zM83 362h5v12h-5zM93 370h1v39h-1zM91 374h5v1h-5zM109 371h1v25h-1zM107 379h5v7h-5zM125 345h1v60h-1zM123 368h5v4h-5zM133 364h1v23h-1zM131 371h5v6h-5zM173 285h1v33h-1zM171 296h5v9h-5zM181 288h1v29h-1zM179 303h5v3h-5zM189 303h1v61h-1zM187 305h5v49h-5zM229 266h1v54h-1zM227 266h5v47h-5zM245 299h1v31h-1zM243 302h5v2h-5zM277 230h1v68h-1zM275 231h5v45h-5zM293 256h1v21h-1zM291 269h5v1h-5zM301 282h1v63h-1zM299 290h5v38h-5zM333 183h1v108h-1zM331 193h5v76h-5zM341 256h1v19h-1zM339 268h5v7h-5zM365 193h1v58h-1zM363 199h5v47h-5zM397 202h1v21h-1zM395 218h5v3h-5zM413 151h1v48h-1zM411 181h5v17h-5zM445 91h1v22h-1zM443 96h5v5h-5zM477 57h1v39h-1zM475 69h5v5h-5zM501 57h1v22h-1zM499 62h5v17h-5zM509 56h1v54h-1zM507 75h5v14h-5zM517 61h1v85h-1zM515 88h5v57h-5zM525 139h1v78h-1zM523 144h5v70h-5zM541 214h1v49h-1zM539 215h5v42h-5zM549 255h1v28h-1zM547 256h5v15h-5zM557 252h1v82h-1zM555 271h5v29h-5zM565 287h1v37h-1zM563 299h5v7h-5zM597 273h1v33h-1zM595 285h5v13h-5zM621 261h1v45h-1zM619 267h5v27h-5zM661 221h1v27h-1zM659 232h5v10h-5zM669 229h1v71h-1zM667 242h5v45h-5zM677 282h1v24h-1zM675 286h5v20h-5zM701 273h1v55h-1zM699 280h5v41h-5zM709 315h1v54h-1zM707 320h5v40h-5zM717 345h1v44h-1zM715 359h5v21h-5zM725 376h1v22h-1zM723 379h5v7h-5zM773 266h1v21h-1zM771 279h5v4h-5zM789 253h1v44h-1zM787 258h5v31h-5zM797 285h1v39h-1zM795 288h5v15h-5zM813 250h1v40h-1zM811 253h5v23h-5zM821 271h1v25h-1zM819 275h5v19h-5zM829 290h1v18h-1zM827 292h5v9h-5zM845 286h1v55h-1zM843 288h5v51h-5zM869 325h1v35h-1zM867 329h5v28h-5zM893 321h1v47h-1zM891 323h5v30h-5z"/>
<path fill="#ff0000" d="M5 360h1v18h-1zM3 369h5v9h-5zM37 379h1v75h-1zM35 397h5v43h-5zM45 345h1v54h-1zM43 378h5v20h-5zM61 361h1v29h-1zM59 362h5v20h-5zM69 350h1v25h-1zM67 359h5v4h-5zM101 368h1v13h-1zM99 371h5v4h-5zM117 359h1v30h-1zM115 368h5v18h-5zM141 320h1v67h-1zM139 326h5v52h-5zM149 302h1v25h-1zM147 316h5v11h-5zM157 310h1v22h-1zM155 311h5v7h-5zM165 287h1v33h-1zM163 296h5v15h-5zM197 334h1v26h-1zM195 341h5v13h-5zM205 320h1v36h-1zM203 338h5v10h-5zM213 280h1v67h-1zM211 301h5v38h-5zM221 253h1v55h-1zM219 266h5v36h-5zM237 288h1v45h-1zM235 301h5v12h-5zM253 299h1v31h-1zM251 300h5v9h-5zM261 273h1v34h-1zM259 275h5v25h-5zM269 230h1v47h-1zM267 231h5v45h-5zM285 245h1v43h-1zM283 269h5v7h-5zM309 310h1v33h-1zM307 317h5v11h-5zM317 207h1v124h-1zM315 219h5v99h-5zM325 181h1v54h-1zM323 192h5v28h-5zM349 209h1v59h-1zM347 211h5v38h-5zM357 194h1v26h-1zM355 199h5v13h-5zM373 216h1v37h-1zM371 232h5v14h-5zM381 206h1v37h-1zM379 224h5v10h-5zM389 213h1v12h-1zM387 222h5v2h-5zM405 181h1v40h-1zM403 181h5v40h-5zM421 145h1v54h-1zM419 153h5v45h-5zM429 113h1v45h-1zM427 119h5v35h-5zM437 94h1v29h-1zM435 97h5v23h-5zM453 84h1v28h-1zM451 98h5v3h-5zM461 81h1v24h-1zM459 88h5v6h-5zM469 57h1v55h-1zM467 69h5v20h-5zM485 63h1v23h-1zM483 69h5v5h-5zM493 55h1v33h-1zM491 62h5v15h-5zM533 194h1v24h-1zM531 210h5v4h-5zM573 278h1v54h-1zM571 291h5v15h-5zM581 280h1v13h-1zM579 280h5v12h-5zM589 265h1v27h-1zM587 284h5v4h-5zM605 267h1v35h-1zM603 293h5v4h-5zM613 253h1v47h-1zM611 267h5v26h-5zM629 278h1v22h-1zM627 281h5v12h-5zM637 254h1v38h-1zM635 270h5v16h-5zM645 233h1v41h-1zM643 242h5v29h-5zM653 224h1v39h-1zM651 232h5v11h-5zM685 272h1v48h-1zM683 289h5v24h-5zM693 276h1v22h-1zM691 280h5v10h-5zM733 351h1v37h-1zM731 366h5v20h-5zM741 348h1v30h-1zM739 360h5v6h-5zM749 317h1v48h-1zM747 335h5v27h-5zM757 275h1v61h-1zM755 285h5v51h-5zM765 247h1v57h-1zM763 279h5v7h-5zM781 257h1v30h-1zM779 257h5v27h-5zM805 241h1v69h-1zM803 253h5v50h-5zM837 275h1v30h-1zM835 288h5v12h-5zM853 317h1v34h-1zM851 331h5v7h-5zM861 297h1v44h-1zM859 329h5v2h-5zM877 330h1v42h-1zM875 336h5v24h-5zM885 301h1v38h-1zM883 323h5v13h-5zM901 317h1v41h-1zM899 341h5v12h-5zM909 334h1v23h-1zM907 340h5v2h-5z"/>
<path fill="#ff4500" d="M4 370h3v7h-3zM36 398h3v41h-3zM44 379h3v18h-3zM60 363h3v18h-3zM68 360h3v2h-3zM100 372h3v2h-3zM116 369h3v16h-3zM140 327h3v50h-3zM148 317h3v9h-3zM156 312h3v5h-3zM164 297h3v13h-3zM196 342h3v11h-3zM204 339h3v8h-3zM212 302h3v36h-3zM220 267h3v34h-3zM236 302h3v10h-3zM252 301h3v7h-3zM260 276h3v23h-3zM268 232h3v43h-3zM284 270h3v5h-3zM308 318h3v9h-3zM316 220h3v97h-3zM324 193h3v26h-3zM348 212h3v36h-3zM356 200h3v11h-3zM372 233h3v12h-3zM380 225h3v8h-3zM404 182h3v38h-3zM420 154h3v43h-3zM428 120h3v33h-3zM436 98h3v21h-3zM452 99h3v1h-3zM460 89h3v4h-3zM468 70h3v18h-3zM484 70h3v3h-3zM492 63h3v13h-3zM532 211h3v2h-3zM572 292h3v13h-3zM580 281h3v10h-3zM588 285h3v2h-3zM604 294h3v2h-3zM612 268h3v24h-3zM628 282h3v10h-3zM636 271h3v14h-3zM644 243h3v27h-3zM652 233h3v9h-3zM684 290h3v22h-3zM692 281h3v8h-3zM732 367h3v18h-3zM740 361h3v4h-3zM748 336h3v25h-3zM756 286h3v49h-3zM764 280h3v5h-3zM780 258h3v25h-3zM804 254h3v48h-3zM836 289h3v10h-3zM852 332h3v5h-3zM876 337h3v22h-3zM884 324h3v11h-3zM900 342h3v10h-3z"/>

<rect x="541" y="227" width="466" height="2" fill="#ff3030"/>
<rect x="556" y="305" width="444" height="2" fill="#96c800"/>
<rect x="630" y="393" width="387" height="2" fill="#3090f0"/>
</g>
<clipPath id="cp2"><rect x="5" y="467" width="1150" height="64"/></clipPath>
<clipPath id="cp3"><rect x="5" y="534" width="1150" height="64"/></clipPath>
<line x1="6" y1="486.5" x2="1155" y2="486.5" stroke="#c0c0c0" stroke-dasharray="3,3"/>
<line x1="6" y1="512.5" x2="1155" y2="512.5" stroke="#c0c0c0" stroke-dasharray="3,3"/>
<g clip-path="url(#cp2)"><path fill="#1e90ff" d="M-3 492h20v1h-20zM17 493h5v1h-5zM22 494h1v1h-1zM23 495h1v1h-1zM24 496h1v1h-1zM25 497h2v1h-2zM27 498h1v1h-1zM28 499h1v1h-1zM29 500h2v1h-2zM31 499h2v1h-2zM33 498h2v1h-2zM35 497h2v1h-2zM37 496h3v1h-3zM40 495h4v1h-4zM44 494h5v1h-5zM49 495h7v1h-7zM56 494h4v1h-4zM60 493h19v1h-19zM79 494h4v1h-4zM83 495h20v1h-20zM103 496h4v1h-4zM107 497h5v1h-5zM112 496h4v1h-4zM116 495h13v1h-13zM129 496h5v1h-5zM134 495h2v1h-2zM136 494h1v1h-1zM137 493h1v1h-1zM138 492h2v1h-2zM140 491h1v1h-1zM141 490h5v1h-5zM146 489h8v1h-8zM154 488h8v1h-8zM162 487h5v1h-5zM167 488h4v1h-4zM171 489h11v1h-11zM182 490h1v1h-1zM183 491h1v1h-1zM184 492h1v1h-1zM185 493h1v2h-1zM186 495h1v1h-1zM187 496h1v1h-1zM188 497h1v1h-1zM189 498h3v1h-3zM192 497h4v1h-4zM196 496h10v1h-10zM206 495h2v1h-2zM208 494h2v1h-2zM210 493h1v1h-1zM211 492h2v1h-2zM213 491h2v1h-2zM215 490h3v1h-3zM218 489h2v1h-2zM220 488h2v1h-2zM222 489h1v1h-1zM223 490h1v1h-1zM224 491h1v1h-1zM225 492h2v1h-2zM227 493h1v1h-1zM228 494h1v1h-1zM229 495h5v1h-5zM234 494h21v1h-21zM255 493h3v1h-3zM258 492h2v1h-2zM260 491h3v1h-3zM263 490h2v1h-2zM265 489h2v1h-2zM267 488h2v1h-2zM269 487h1v1h-1zM270 488h1v1h-1zM271 489h1v1h-1zM272 490h1v1h-1zM273 491h2v1h-2zM275 492h1v1h-1zM276 493h1v1h-1zM277 494h5v1h-5zM282 493h12v1h-12zM294 494h1v1h-1zM295 495h1v1h-1zM296 496h1v1h-1zM297 497h2v1h-2zM299 498h1v1h-1zM300 499h1v1h-1zM301 500h5v1h-5zM306 499h4v1h-4zM310 498h1v1h-1zM311 497h1v1h-1zM312 496h1v1h-1zM313 494h1v2h-1zM314 493h1v1h-1zM315 492h1v1h-1zM316 491h1v1h-1zM317 490h5v1h-5zM322 489h4v1h-4zM326 490h1v1h-1zM327 491h1v1h-1zM328 492h1v1h-1zM329 493h2v1h-2zM331 494h1v1h-1zM332 495h1v1h-1zM333 496h4v1h-4zM337 497h6v1h-6zM343 496h2v1h-2zM345 495h2v1h-2zM347 494h2v1h-2zM349 493h5v1h-5zM354 492h4v1h-4zM358 493h2v1h-2zM360 494h2v1h-2zM362 495h2v1h-2zM364 496h6v1h-6zM370 495h16v1h-16zM386 494h13v1h-13zM399 493h3v1h-3zM402 492h2v1h-2zM404 491h3v1h-3zM407 492h4v1h-4zM411 493h4v1h-4zM415 492h3v1h-3zM418 491h2v1h-2zM420 490h4v1h-4zM424 489h4v1h-4zM428 488h4v1h-4zM432 487h4v1h-4zM436 486h5v1h-5zM441 487h17v1h-17zM458 486h8v1h-8zM466 485h29v1h-29zM495 486h2v1h-2zM497 487h3v1h-3zM500 488h5v1h-5zM505 489h5v1h-5zM510 490h1v1h-1zM511 491h1v1h-1zM512 492h1v1h-1zM513 493h1v2h-1zM514 495h1v1h-1zM515 496h1v1h-1zM516 497h1v1h-1zM517 498h1v1h-1zM518 499h1v1h-1zM519 500h1v1h-1zM520 501h1v1h-1zM521 502h2v1h-2zM523 503h1v1h-1zM524 504h1v1h-1zM525 505h5v1h-5zM530 504h4v1h-4zM534 505h2v1h-2zM536 506h2v1h-2zM538 507h2v1h-2zM540 508h5v1h-5zM545 509h6v1h-6zM551 510h4v1h-4zM555 511h13v1h-13zM568 510h4v1h-4zM572 509h6v1h-6zM578 508h15v1h-15zM593 509h9v1h-9zM602 508h5v1h-5zM607 507h2v1h-2zM609 506h2v1h-2zM611 505h2v1h-2zM613 504h2v1h-2zM615 505h2v1h-2zM617 506h3v1h-3zM620 507h4v1h-4zM624 506h4v1h-4zM628 505h4v1h-4zM632 504h4v1h-4zM636 503h3v1h-3zM639 502h3v1h-3zM642 501h2v1h-2zM644 500h4v1h-4zM648 499h4v1h-4zM652 498h5v1h-5zM657 499h5v1h-5zM662 500h1v1h-1zM663 501h2v1h-2zM665 502h1v1h-1zM666 503h1v1h-1zM667 504h2v1h-2zM669 505h2v1h-2zM671 506h4v1h-4zM675 507h4v1h-4zM679 506h3v1h-3zM682 505h2v1h-2zM684 504h6v1h-6zM690 503h4v1h-4zM694 504h2v1h-2zM696 505h2v1h-2zM698 506h2v1h-2zM700 507h3v1h-3zM703 508h2v1h-2zM705 509h3v1h-3zM708 510h3v1h-3zM711 511h4v1h-4zM715 512h12v1h-12zM727 511h3v1h-3zM730 510h2v1h-2zM732 509h6v1h-6zM738 508h5v1h-5zM743 507h2v1h-2zM745 506h2v1h-2zM747 505h2v1h-2zM749 504h1v1h-1zM750 503h2v1h-2zM752 502h1v1h-1zM753 501h1v1h-1zM754 500h2v1h-2zM756 499h1v1h-1zM757 498h5v1h-5zM762 497h7v1h-7zM769 498h6v1h-6zM775 497h3v1h-3zM778 496h2v1h-2zM780 495h2v1h-2zM782 496h2v1h-2zM784 497h2v1h-2zM786 498h2v1h-2zM788 499h5v1h-5zM793 500h5v1h-5zM798 499h2v1h-2zM800 498h2v1h-2zM802 497h1v1h-1zM803 496h2v1h-2zM805 495h2v1h-2zM807 496h2v1h-2zM809 497h3v1h-3zM812 498h3v1h-3zM815 499h4v1h-4zM819 500h15v1h-15zM834 499h4v1h-4zM838 500h2v1h-2zM840 501h1v1h-1zM841 502h2v1h-2zM843 503h2v1h-2zM845 504h5v1h-5zM850 503h13v1h-13zM863 504h2v1h-2zM865 505h3v1h-3zM868 506h3v1h-3zM871 505h3v1h-3zM874 504h2v1h-2zM876 503h4v1h-4zM880 502h4v1h-4zM884 501h3v1h-3zM887 502h2v1h-2zM889 503h3v1h-3zM892 504h6v1h-6zM898 503h11v1h-11z"/>
</g>
<g clip-path="url(#cp3)"><path fill="#c0c0c0" d="M4 563h3v9h-3zM12 562h3v10h-3zM20 560h3v12h-3zM28 563h3v9h-3zM36 563h3v9h-3zM44 562h3v10h-3zM52 561h3v11h-3zM60 560h3v12h-3zM68 559h3v13h-3zM76 559h3v13h-3zM84 559h3v13h-3zM92 559h3v13h-3zM100 560h3v12h-3zM108 561h3v11h-3zM116 561h3v11h-3zM124 561h3v11h-3zM132 562h3v10h-3zM140 560h3v12h-3zM148 558h3v14h-3zM156 557h3v15h-3zM164 555h3v17h-3zM172 554h3v18h-3zM180 554h3v18h-3zM188 556h3v16h-3zM196 558h3v14h-3zM204 559h3v13h-3zM212 558h3v14h-3zM220 556h3v16h-3zM228 556h3v16h-3zM236 557h3v15h-3zM244 557h3v15h-3zM252 557h3v15h-3zM260 557h3v15h-3zM268 554h3v18h-3zM276 554h3v18h-3zM284 555h3v17h-3zM292 555h3v17h-3zM300 558h3v14h-3zM308 560h3v12h-3zM316 557h3v15h-3zM324 554h3v18h-3zM332 555h3v17h-3zM340 557h3v15h-3zM348 555h3v17h-3zM356 553h3v19h-3zM364 554h3v18h-3zM372 555h3v17h-3zM380 555h3v17h-3zM388 555h3v17h-3zM396 555h3v17h-3zM404 554h3v18h-3zM412 553h3v19h-3zM420 551h3v21h-3zM428 548h3v24h-3zM436 545h3v27h-3zM444 543h3v29h-3zM452 541h3v31h-3zM460 540h3v32h-3zM468 539h3v33h-3zM476 538h3v34h-3zM484 538h3v34h-3zM492 538h3v34h-3zM500 539h3v33h-3zM508 540h3v32h-3zM516 545h3v27h-3zM524 552h3v20h-3zM532 557h3v15h-3zM540 564h3v8h-3zM548 570h3v2h-3zM556 572h3v6h-3zM564 572h3v11h-3zM572 572h3v14h-3zM580 572h3v16h-3zM588 572h3v17h-3zM596 572h3v19h-3zM604 572h3v20h-3zM612 572h3v19h-3zM620 572h3v19h-3zM628 572h3v19h-3zM636 572h3v18h-3zM644 572h3v15h-3zM652 572h3v13h-3zM660 572h3v11h-3zM668 572h3v12h-3zM676 572h3v13h-3zM684 572h3v13h-3zM692 572h3v13h-3zM700 572h3v14h-3zM708 572h3v17h-3zM716 572h3v20h-3zM724 572h3v23h-3zM732 572h3v24h-3zM740 572h3v24h-3zM748 572h3v22h-3zM756 572h3v18h-3zM764 572h3v15h-3zM772 572h3v12h-3zM780 572h3v9h-3zM788 572h3v7h-3zM796 572h3v7h-3zM804 572h3v4h-3zM812 572h3v3h-3zM820 572h3v3h-3zM828 572h3v3h-3zM836 572h3v3h-3zM844 572h3v5h-3zM852 572h3v6h-3zM860 572h3v7h-3zM868 572h3v9h-3zM876 572h3v9h-3zM884 572h3v9h-3zM892 572h3v10h-3zM900 572h3v10h-3zM908 572h3v10h-3z"/>
<path fill="#ff0000" d="M-3 571h5v1h-5zM2 570h8v1h-8zM10 569h8v1h-8zM18 568h8v1h-8zM26 567h8v1h-8zM34 566h8v1h-8zM42 565h8v1h-8zM50 564h6v1h-6zM56 563h4v1h-4zM60 562h6v1h-6zM66 561h8v1h-8zM74 560h7v1h-7zM81 561h9v1h-9zM90 560h72v1h-72zM162 559h16v1h-16zM178 558h16v1h-16zM194 557h24v1h-24zM218 556h23v1h-23zM241 557h33v1h-33zM274 556h104v1h-104zM378 555h32v1h-32zM410 554h16v1h-16zM426 553h8v1h-8zM434 552h8v1h-8zM442 551h6v1h-6zM448 550h4v1h-4zM452 549h6v1h-6zM458 548h6v1h-6zM464 547h4v1h-4zM468 546h4v1h-4zM472 545h4v1h-4zM476 544h6v1h-6zM482 543h6v1h-6zM488 542h4v1h-4zM492 541h6v1h-6zM498 540h8v1h-8zM506 539h7v1h-7zM513 540h8v1h-8zM521 541h6v1h-6zM527 542h4v1h-4zM531 543h4v1h-4zM535 544h2v1h-2zM537 545h3v1h-3zM540 546h3v1h-3zM543 547h2v1h-2zM545 548h3v1h-3zM548 549h2v1h-2zM550 550h2v1h-2zM552 551h2v1h-2zM554 552h2v1h-2zM556 553h2v1h-2zM558 554h2v1h-2zM560 555h1v1h-1zM561 556h2v1h-2zM563 557h2v1h-2zM565 558h1v1h-1zM566 559h1v1h-1zM567 560h2v1h-2zM569 561h1v1h-1zM570 562h1v1h-1zM571 563h2v1h-2zM573 564h1v1h-1zM574 565h2v1h-2zM576 566h1v1h-1zM577 567h2v1h-2zM579 568h2v1h-2zM581 569h1v1h-1zM582 570h2v1h-2zM584 571h1v1h-1zM585 572h2v1h-2zM587 573h2v1h-2zM589 574h1v1h-1zM590 575h2v1h-2zM592 576h2v1h-2zM594 577h2v1h-2zM596 578h2v1h-2zM598 579h2v1h-2zM600 580h2v1h-2zM602 581h2v1h-2zM604 582h3v1h-3zM607 583h4v1h-4zM611 584h4v1h-4zM615 585h2v1h-2zM617 586h3v1h-3zM620 587h5v1h-5zM625 588h8v1h-8zM633 589h25v1h-25zM658 588h8v1h-8zM666 587h8v1h-8zM674 586h16v1h-16zM690 585h31v1h-31zM721 586h6v1h-6zM727 587h4v1h-4zM731 588h6v1h-6zM737 589h8v1h-8zM745 590h16v1h-16zM761 591h9v1h-9zM770 590h8v1h-8zM778 589h8v1h-8zM786 588h6v1h-6zM792 587h4v1h-4zM796 586h4v1h-4zM800 585h4v1h-4zM804 584h4v1h-4zM808 583h4v1h-4zM812 582h4v1h-4zM816 581h4v1h-4zM820 580h4v1h-4zM824 579h4v1h-4zM828 578h6v1h-6zM834 577h8v1h-8zM842 576h8v1h-8zM850 575h15v1h-15zM865 576h16v1h-16zM881 577h8v1h-8zM889 578h16v1h-16zM905 579h4v1h-4z"/>
</g>
</svg>
<div id="p66" class="lbl" style="left:1161.20px;top:60px;transform:scaleX(0.9300);">1.36455</div><div class="tk" style="top:65px"></div><div id="p99" class="lbl" style="left:1161.20px;top:93px;transform:scaleX(0.9300);">1.35885</div><div class="tk" style="top:98px"></div><div id="p132" class="lbl" style="left:1161.20px;top:126px;transform:scaleX(0.9300);">1.35300</div><div class="tk" style="top:131px"></div><div id="p165" class="lbl" style="left:1161.20px;top:159px;transform:scaleX(0.9300);">1.34730</div><div class="tk" style="top:164px"></div><div id="p198" class="lbl" style="left:1161.20px;top:192px;transform:scaleX(0.9300);">1.34160</div><div class="tk" style="top:197px"></div><div id="p231" class="lbl" style="left:1161.20px;top:225px;transform:scaleX(0.9300);">1.33575</div><div class="tk" style="top:230px"></div><div id="p264" class="lbl" style="left:1161.20px;top:258px;transform:scaleX(0.9300);">1.33005</div><div class="tk" style="top:263px"></div><div id="p297" class="lbl" style="left:1161.20px;top:291px;transform:scaleX(0.9300);">1.32435</div><div class="tk" style="top:296px"></div><div id="p330" class="lbl" style="left:1161.20px;top:324px;transform:scaleX(0.9300);">1.31850</div><div class="tk" style="top:329px"></div><div id="p363" class="lbl" style="left:1161.20px;top:357px;transform:scaleX(0.9300);">1.31280</div><div class="tk" style="top:362px"></div><div id="p396" class="lbl" style="left:1161.20px;top:390px;transform:scaleX(0.9300);">1.30710</div><div class="tk" style="top:395px"></div><div id="p429" class="lbl" style="left:1161.20px;top:423px;transform:scaleX(0.9300);">1.30125</div><div class="tk" style="top:428px"></div><div id="p462" class="lbl" style="left:1161.20px;top:456px;transform:scaleX(0.9300);">1.29555</div><div class="tk" style="top:461px"></div>
<div style="left:1157px;top:335px;width:39px;height:11px;background:#000"></div>
<div id="cur" class="lbl" style="left:1161.20px;top:335px;color:#fff;transform:scaleX(0.9300);-webkit-text-stroke:0.2px #fff;">1.31670</div>
<div id="r100" class="lbl" style="left:1159.40px;top:468px;transform:scaleX(0.9300);">100</div>
<div id="r70" class="lbl" style="left:1157.80px;top:481px;transform:scaleX(0.9300);">70</div>
<div id="r30" class="lbl" style="left:1157.80px;top:507px;transform:scaleX(0.9300);">30</div>
<div id="r0" class="lbl" style="left:1159.20px;top:519px;transform:scaleX(0.9300);">0</div>
<div id="m1" class="lbl" style="left:1159.00px;top:535px;transform:scaleX(0.9300);">0.010525</div>
<div id="m2" class="lbl" style="left:1159.00px;top:567px;transform:scaleX(0.9300);">0.00</div>
<div id="m3" class="lbl" style="left:1159.00px;top:586px;transform:scaleX(0.9300);">-0.0073</div>
<div class="tk" style="top:572px;width:1px"></div>
<div class="tk" style="top:467px;width:1px"></div><div class="tk" style="top:530px;width:1px"></div>
<div class="tk" style="top:535px;width:1px"></div><div class="tk" style="top:597px;width:1px"></div>
<div id="rsi" class="lbl" style="left:8.65px;top:469px;transform:scaleX(0.9846);">RSI(14) 44.4261</div>
<div id="macd" class="lbl" style="left:8.68px;top:536px;transform:scaleX(0.9783);">MACD(12,26,9) -0.002627 -0.002142</div>
<div class="dt" style="left:5px"></div><div id="d0" class="lbl" style="left:4.00px;top:602px;transform:scaleX(0.9792);">20 Oct 2018</div><div class="dt" style="left:69px"></div><div id="d1" class="lbl" style="left:68.00px;top:602px;transform:scaleX(0.9792);">30 Oct 2018</div><div class="dt" style="left:133px"></div><div id="d2" class="lbl" style="left:132.00px;top:602px;transform:scaleX(0.9792);">8 Nov 2018</div><div class="dt" style="left:197px"></div><div id="d3" class="lbl" style="left:196.00px;top:602px;transform:scaleX(0.9792);">17 Nov 2018</div><div class="dt" style="left:261px"></div><div id="d4" class="lbl" style="left:260.00px;top:602px;transform:scaleX(0.9792);">27 Nov 2018</div><div class="dt" style="left:325px"></div><div id="d5" class="lbl" style="left:324.00px;top:602px;transform:scaleX(0.9792);">6 Dec 2018</div><div class="dt" style="left:389px"></div><div id="d6" class="lbl" style="left:388.00px;top:602px;transform:scaleX(0.9792);">15 Dec 2018</div><div class="dt" style="left:453px"></div><div id="d7" class="lbl" style="left:452.00px;top:602px;transform:scaleX(0.9792);">25 Dec 2018</div><div class="dt" style="left:517px"></div><div id="d8" class="lbl" style="left:516.00px;top:602px;transform:scaleX(0.9792);">3 Jan 2019</div><div class="dt" style="left:581px"></div><div id="d9" class="lbl" style="left:580.00px;top:602px;transform:scaleX(0.9792);">12 Jan 2019</div><div class="dt" style="left:645px"></div><div id="d10" class="lbl" style="left:644.00px;top:602px;transform:scaleX(0.9792);">22 Jan 2019</div><div class="dt" style="left:709px"></div><div id="d11" class="lbl" style="left:708.00px;top:602px;transform:scaleX(0.9792);">31 Jan 2019</div><div class="dt" style="left:773px"></div><div id="d12" class="lbl" style="left:772.00px;top:602px;transform:scaleX(0.9792);">9 Feb 2019</div><div class="dt" style="left:837px"></div><div id="d13" class="lbl" style="left:836.00px;top:602px;transform:scaleX(0.9792);">19 Feb 2019</div><div class="dt" style="left:901px"></div><div id="d14" class="lbl" style="left:900.00px;top:602px;transform:scaleX(0.9792);">28 Feb 2019</div>
<!-- title -->
<svg width="8" height="5" viewBox="0 0 8 5" style="position:absolute;left:8px;top:40px" shape-rendering="crispEdges"><path d="M3 0h1v1h1v1h1v1h1v1h-7v-1h1v-1h1v-1h1z" fill="#000"/></svg>
<div id="title" class="lbl" style="left:19.78px;top:36px;transform:scaleX(1.0808);">USDCAD,Daily</div><div id="title2" class="lbl" style="left:91.55px;top:36px;transform:scaleX(0.9480);">1.31651 1.31771 1.31393 1.31670</div>
<!-- one click trading panel -->
<div style="left:8px;top:53px;width:52px;height:24px;background:linear-gradient(#ff5c5c,#e23030);border:1px solid #d83838;border-bottom:none;box-sizing:border-box"></div>
<div style="left:175px;top:53px;width:52px;height:24px;background:linear-gradient(#ff5c5c,#e23030);border:1px solid #d83838;border-bottom:none;box-sizing:border-box"></div>
<div style="left:8px;top:77px;width:109px;height:40px;background:linear-gradient(#e03030,#b00000);border:1px solid #c81818;border-bottom-color:#a00000;box-sizing:border-box"></div>
<div style="left:119px;top:77px;width:108px;height:40px;background:linear-gradient(#e03030,#b00000);border:1px solid #c81818;border-bottom-color:#a00000;box-sizing:border-box"></div>
<div style="left:12px;top:76px;width:44px;height:1px;background:#c02020"></div><div style="left:12px;top:77px;width:44px;height:1px;background:#f06868"></div>
<div style="left:179px;top:76px;width:44px;height:1px;background:#c02020"></div><div style="left:179px;top:77px;width:44px;height:1px;background:#f06868"></div>
<div style="left:62px;top:54px;width:111px;height:21px;background:#fff;border:1px solid #b0b0b0;box-sizing:border-box"></div>
<div style="left:63px;top:55px;width:20px;height:19px;background:linear-gradient(#f4f4f4 0%,#e4e4e4 45%,#d0d0d0 50%,#d8d8d8 100%);border-right:1px solid #b8b8b8;box-sizing:border-box"></div>
<div style="left:152px;top:55px;width:20px;height:19px;background:linear-gradient(#f4f4f4 0%,#e4e4e4 45%,#d0d0d0 50%,#d8d8d8 100%);border-left:1px solid #b8b8b8;box-sizing:border-box"></div>
<div style="left:69.5px;top:62px;width:0;height:0;border-left:3px solid transparent;border-right:3px solid transparent;border-top:3px solid #5060c0"></div>
<div style="left:158px;top:62px;width:0;height:0;border-left:3px solid transparent;border-right:3px solid transparent;border-bottom:3px solid #5060c0"></div>
<div style="left:84px;top:56px;width:64px;font-size:13px;line-height:16px;text-align:right;color:#000;transform-origin:100% 0;transform:scaleX(0.93)">10.00</div>
<div id="sell" style="left:19px;top:58px;font-size:12.5px;line-height:14px;color:#fff;transform-origin:0 0;transform:scaleX(0.9)">SELL</div>
<div id="buy" style="left:187px;top:58px;font-size:12.5px;line-height:14px;color:#fff;">BUY</div>
<div class="sm" style="left:28px;">1.31</div>
<div class="big" style="left:54px;transform:scaleX(0.9)">67</div>
<div class="sup" style="left:94.5px;">0</div>
<div class="sm" style="left:138px;">1.31</div>
<div class="big" style="left:166px;transform:scaleX(0.93)">69</div>
<div class="sup" style="left:204px;">7</div>
<!-- bottom tabs -->
<div style="left:0;top:621px;width:1196px;height:1px;background:#000"></div>
<div style="left:0;top:622px;width:1196px;height:18px;background:#f0f0f0"></div>
<div style="left:0;top:640px;width:1196px;height:5px;background:#f0f0f0"></div>
<div style="left:0;top:641px;width:1196px;height:1px;background:#fff"></div>
<div style="left:0;top:619px;width:1196px;height:1px;background:#e3e3e3"></div>
<div style="left:0;top:622px;width:1196px;height:1px;background:#fff"></div>
<div style="left:0;top:622px;width:1px;height:19px;background:#a0a0a0"></div>
<div style="left:1px;top:622px;width:1px;height:19px;background:#696969"></div>
<div class="acttab"></div><div class="tab" style="left:17.13px;transform:scaleX(0.9200)">EURUSD,Daily</div><div class="tab" style="left:120.69px;transform:scaleX(0.9403)">AUDUSD,Daily</div><div class="tab" style="left:223.06px;transform:scaleX(0.9361)">USDCHF,Daily</div><div class="tab act" style="left:323.84px;transform:scaleX(0.9372)">USDCAD,Daily</div><div class="tab" style="left:426.84px;transform:scaleX(0.9498)">USDCNH,Daily</div><div class="tab" style="left:531.07px;transform:scaleX(0.9260)">USDJPY,Daily</div><div class="tab" style="left:627.12px;transform:scaleX(0.9558)">XAUUSD,Weekly</div><div class="tab" style="left:745.54px;transform:scaleX(0.9205)">GBPUSD,Daily</div><div class="tab" style="left:849.23px;transform:scaleX(0.9568)">SP500,M15</div><div class="tab" style="left:937.93px;transform:scaleX(0.9236)">GBPUSD,Daily</div><div class="tab" style="left:1039.24px;transform:scaleX(0.9541)">DJ30,H4</div><div class="tab" style="left:1108.00px;transform:scaleX(0.9050)">TECH100,I</div><div class="tsep" style="left:110px"></div><div class="tsep" style="left:214px"></div><div class="tsep" style="left:522px"></div><div class="tsep" style="left:618px"></div><div class="tsep" style="left:734px"></div><div class="tsep" style="left:838px"></div><div class="tsep" style="left:926px"></div><div class="tsep" style="left:1030px"></div><div class="tsep" style="left:1098px"></div>
<div style="left:1166px;top:623px;width:30px;height:17px;background:#f0f0f0"></div>
<div style="left:1170.5px;top:627px;width:0;height:0;border-top:3.5px solid transparent;border-bottom:3.5px solid transparent;border-right:3.5px solid #a0a0a0"></div>
<div style="left:1190px;top:627px;width:0;height:0;border-top:3.5px solid transparent;border-bottom:3.5px solid transparent;border-left:3.5px solid #000"></div>
</div></body></html>
